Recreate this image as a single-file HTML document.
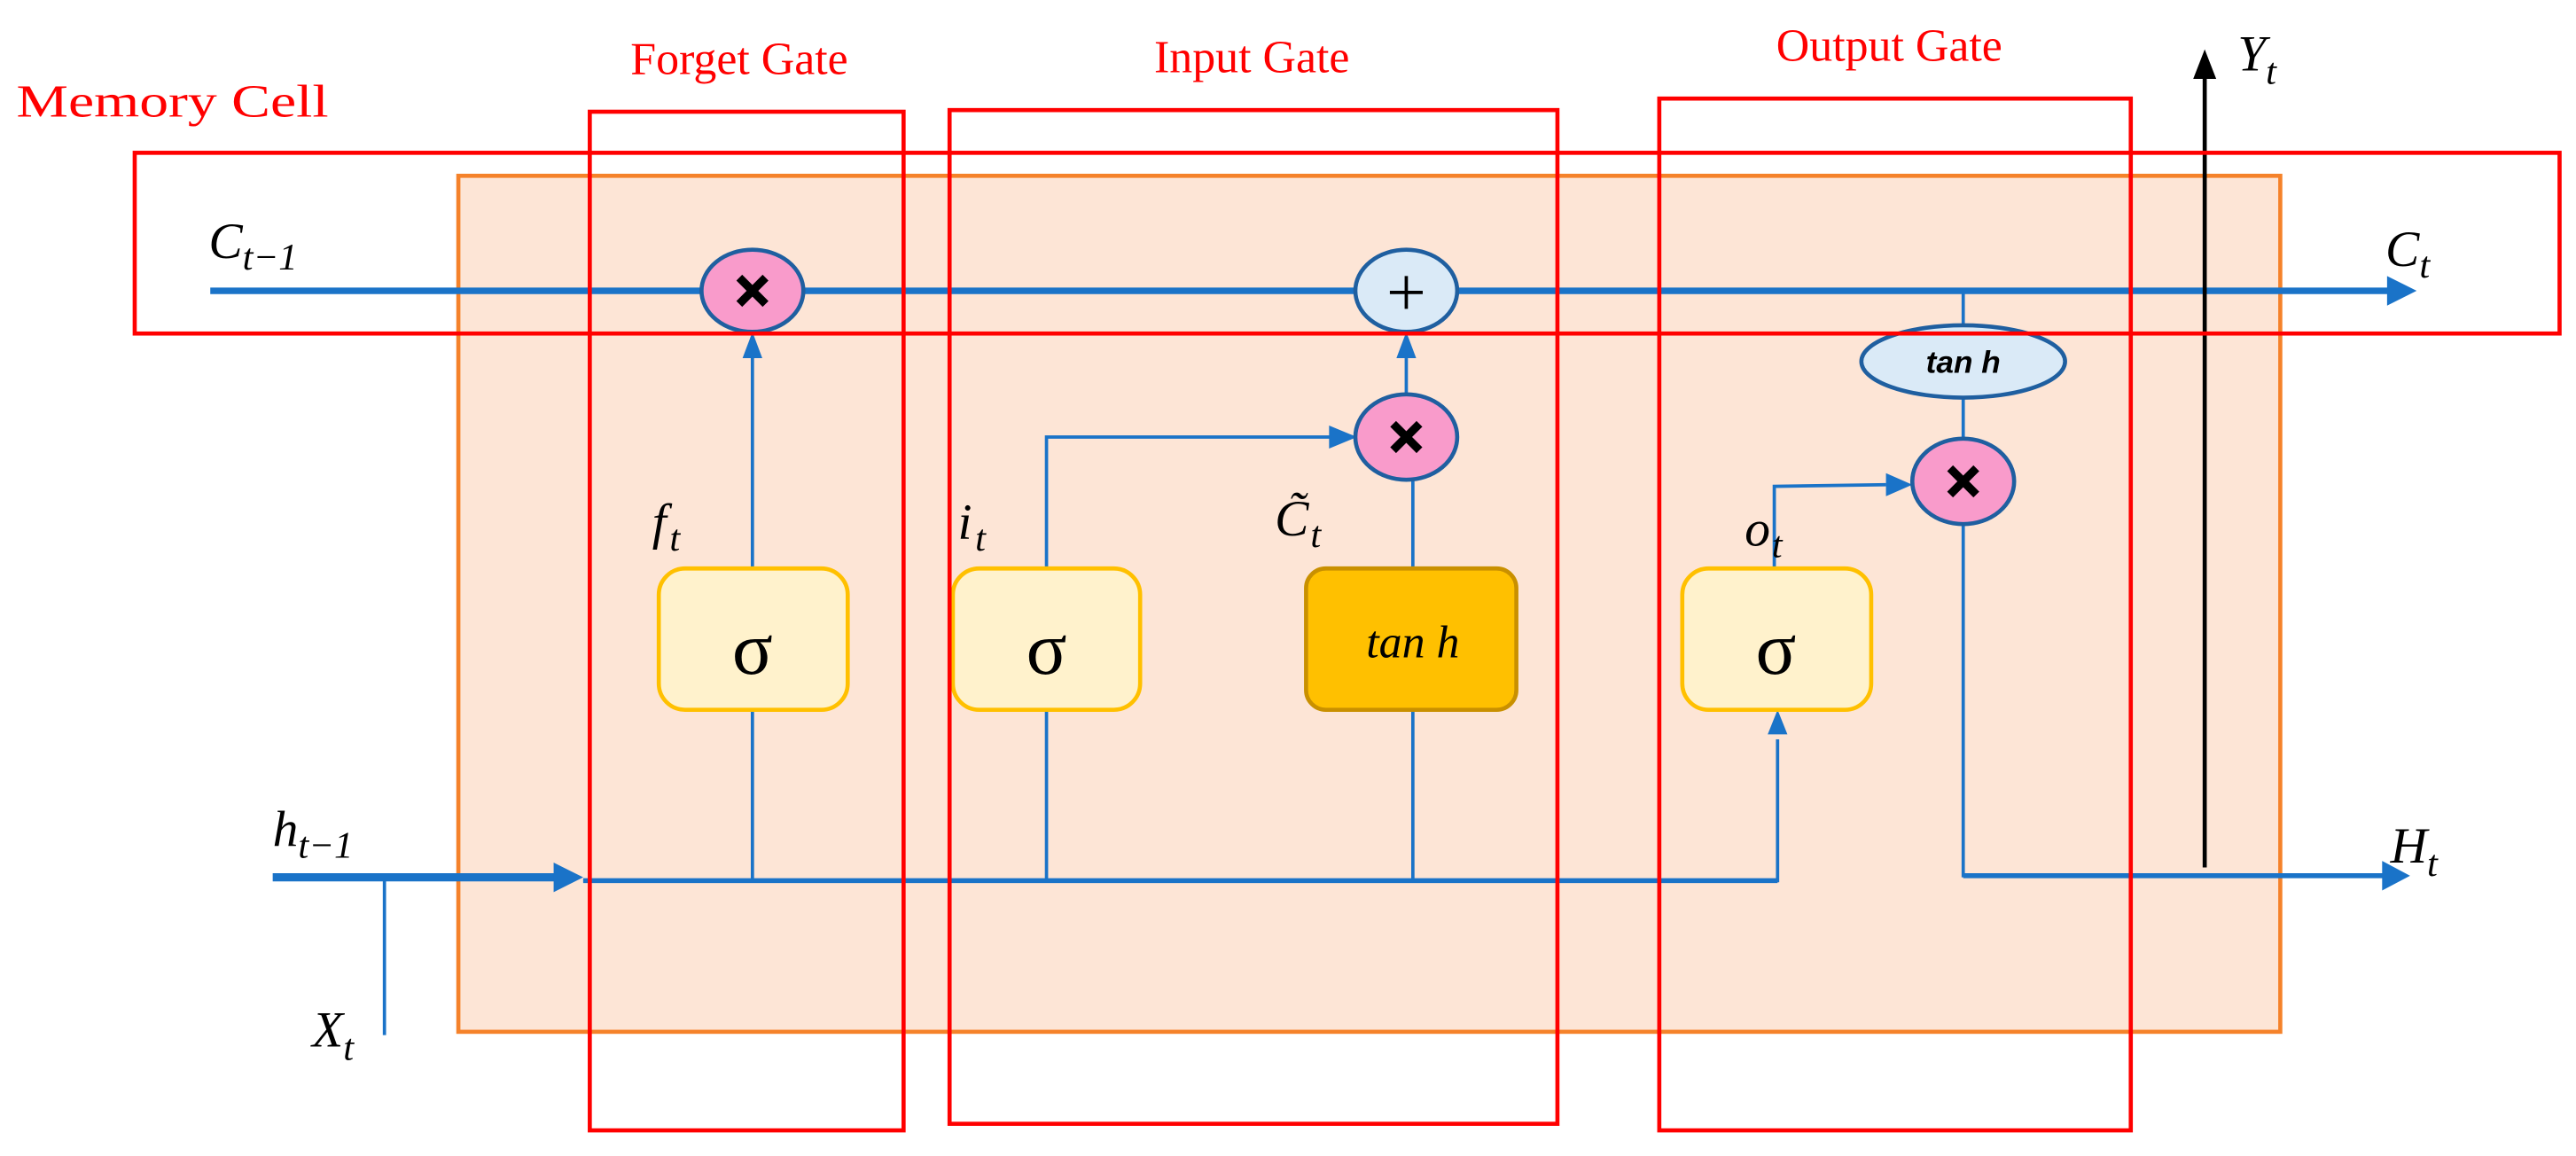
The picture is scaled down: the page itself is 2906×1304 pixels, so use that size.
<!DOCTYPE html>
<html><head><meta charset="utf-8"><style>
html,body{margin:0;padding:0;background:#fff;}
svg{display:block;}
.lbl{font-family:"Liberation Serif",serif;font-style:italic;font-size:31px;fill:#000;}
.sub{font-size:23px;}
.ttl{font-family:"Liberation Serif",serif;font-size:28px;fill:#ff0000;}
</style></head><body>
<svg width="2906" height="1304" viewBox="0 0 1568 703.6" preserveAspectRatio="none" xmlns="http://www.w3.org/2000/svg">
<rect x="279" y="107" width="1109" height="521" fill="#fde5d6" stroke="#f5822a" stroke-width="2.5"/>
<text class="ttl" x="10" y="71" textLength="190" lengthAdjust="spacingAndGlyphs">Memory Cell</text>
<text class="ttl" x="450" y="45" text-anchor="middle">Forget Gate</text>
<text class="ttl" x="762" y="44" text-anchor="middle">Input Gate</text>
<text class="ttl" x="1150" y="37" text-anchor="middle">Output Gate</text>

<line x1="128" y1="177" x2="1455" y2="177" stroke="#1a73c8" stroke-width="4"/>
<path d="M1453,168 L1471,177 L1453,186 z" fill="#1a73c8"/>

<g stroke="#1a73c8" stroke-width="2" fill="none">
<line x1="458" y1="346" x2="458" y2="218"/>
<line x1="856" y1="240" x2="856" y2="218"/>
<polyline points="637,346 637,266 810,266"/>
<line x1="860" y1="346" x2="860" y2="292"/>
<line x1="1195" y1="177" x2="1195" y2="198"/>
<line x1="1195" y1="242" x2="1195" y2="268"/>
<polyline points="1195,319 1195,533 1450,533"/>
<polyline points="1080,346 1080,296 1148,295"/>
<line x1="458" y1="432" x2="458" y2="536"/>
<line x1="637" y1="432" x2="637" y2="536"/>
<line x1="860" y1="432" x2="860" y2="536"/>
<polyline points="355,536 1082,536 1082,450"/>
<line x1="234" y1="536" x2="234" y2="630"/>
</g>
<line x1="1195" y1="533" x2="1452" y2="533" stroke="#1a73c8" stroke-width="3"/>
<line x1="355" y1="536" x2="1082" y2="536" stroke="#1a73c8" stroke-width="3"/>
<line x1="166" y1="534" x2="340" y2="534" stroke="#1a73c8" stroke-width="5"/>
<g fill="#1a73c8">
<path d="M452,218 L464,218 L458,202 z"/>
<path d="M850,218 L862,218 L856,202 z"/>
<path d="M809,259 L826,266 L809,273 z"/>
<path d="M1148,288 L1164,295 L1148,302 z"/>
<path d="M1076,447 L1088,447 L1082,432 z"/>
<path d="M337,525 L355,534 L337,543 z"/>
<path d="M1450,524 L1467,533 L1450,542 z"/>
</g>

<line x1="1342" y1="528" x2="1342" y2="45" stroke="#000" stroke-width="2.5"/>
<path d="M1335,48 L1349,48 L1342,30 z" fill="#000"/>

<rect x="401" y="346" width="115" height="86" rx="16" fill="#fff2cc" stroke="#ffc000" stroke-width="2.5"/>
<rect x="580" y="346" width="114" height="86" rx="16" fill="#fff2cc" stroke="#ffc000" stroke-width="2.5"/>
<rect x="795" y="346" width="128" height="86" rx="12" fill="#ffc000" stroke="#c99000" stroke-width="2.5"/>
<rect x="1024" y="346" width="115" height="86" rx="16" fill="#fff2cc" stroke="#ffc000" stroke-width="2.5"/>
<g font-family="Liberation Serif,serif" font-size="46" text-anchor="middle" fill="#000">
<text x="458" y="410">σ</text><text x="637" y="410">σ</text><text x="1081" y="410">σ</text>
</g>
<text x="860" y="400" font-family="Liberation Serif,serif" font-style="italic" font-size="28" text-anchor="middle">tan h</text>

<g stroke="#1f5fa0" stroke-width="2.5">
<ellipse cx="458" cy="177" rx="31" ry="25" fill="#f99bcb"/>
<ellipse cx="856" cy="177" rx="31" ry="25" fill="#daeaf7"/>
<ellipse cx="856" cy="266" rx="31" ry="26" fill="#f99bcb"/>
<ellipse cx="1195" cy="220" rx="62" ry="22" fill="#daeaf7"/>
<ellipse cx="1195" cy="293" rx="31" ry="26" fill="#f99bcb"/>
</g>
<g stroke="#000" stroke-width="5">
<path d="M450,169 L466,185 M466,169 L450,185"/>
<path d="M848,258 L864,274 M864,258 L848,274"/>
<path d="M1187,285 L1203,301 M1203,285 L1187,301"/>
</g>
<path d="M856,168 L856,188 M846,178 L866,178" stroke="#000" stroke-width="2"/>
<text x="1195" y="227" font-family="Liberation Sans,sans-serif" font-style="italic" font-weight="bold" font-size="19" text-anchor="middle">tan h</text>

<g fill="none" stroke="#ff0000" stroke-width="2.5">
<rect x="82" y="93" width="1476" height="110"/>
<rect x="359" y="68" width="191" height="620"/>
<rect x="578" y="67" width="370" height="617"/>
<rect x="1010" y="60" width="287" height="628"/>
</g>

<text class="lbl" x="127" y="157">C<tspan class="sub" dy="7">t−1</tspan></text>
<text class="lbl" x="397" y="328">f<tspan class="sub" dx="2" dy="7">t</tspan></text>
<text class="lbl" x="583" y="328">i<tspan class="sub" dx="2" dy="7">t</tspan></text>
<text class="lbl" x="776" y="326">C̃<tspan class="sub" dx="1" dy="7">t</tspan></text>
<text class="lbl" x="1062" y="332">o<tspan class="sub" dx="1" dy="7">t</tspan></text>
<text class="lbl" x="1452" y="162">C<tspan class="sub" dy="7">t</tspan></text>
<text class="lbl" x="166" y="515">h<tspan class="sub" dy="7">t−1</tspan></text>
<text class="lbl" x="190" y="637">X<tspan class="sub" dy="8">t</tspan></text>
<text class="lbl" x="1455" y="525">H<tspan class="sub" dy="8">t</tspan></text>
<text class="lbl" x="1362" y="43">Y<tspan class="sub" dy="8">t</tspan></text>
</svg>
</body></html>
